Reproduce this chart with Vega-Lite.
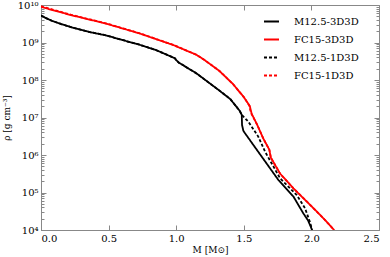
{
  "$schema": "https://vega.github.io/schema/vega-lite/v6.json",
  "autosize": "none",
  "width": 338,
  "height": 225,
  "padding": {"left": 41, "top": 5, "right": 11, "bottom": 27},
  "config": {
    "view": {"stroke": "#888888", "strokeWidth": 1},
    "font": "DejaVu Serif",
    "axis": {"domainColor": "#888888", "tickColor": "#888888", "labelFont": "DejaVu Serif", "titleFont": "DejaVu Serif", "labelColor": "#000000", "titleColor": "#000000", "labelFontSize": 10, "titleFontSize": 9, "titleFontWeight": "normal", "grid": false}
  },
  "datasets": {
    "curves": [
      {"series": "M12.5-3D3D", "M": 0.0, "rho": 5.25e9},
      {"series": "M12.5-3D3D", "M": 0.03, "rho": 4.6e9},
      {"series": "M12.5-3D3D", "M": 0.08, "rho": 3.8e9},
      {"series": "M12.5-3D3D", "M": 0.15, "rho": 3.1e9},
      {"series": "M12.5-3D3D", "M": 0.24, "rho": 2.45e9},
      {"series": "M12.5-3D3D", "M": 0.36, "rho": 1.9e9},
      {"series": "M12.5-3D3D", "M": 0.48, "rho": 1.55e9},
      {"series": "M12.5-3D3D", "M": 0.6, "rho": 1.17e9},
      {"series": "M12.5-3D3D", "M": 0.73, "rho": 8.7e8},
      {"series": "M12.5-3D3D", "M": 0.85, "rho": 6.3e8},
      {"series": "M12.5-3D3D", "M": 0.95, "rho": 4.4e8},
      {"series": "M12.5-3D3D", "M": 0.99, "rho": 3.8e8},
      {"series": "M12.5-3D3D", "M": 1.0, "rho": 3.4e8},
      {"series": "M12.5-3D3D", "M": 1.02, "rho": 2.9e8},
      {"series": "M12.5-3D3D", "M": 1.15, "rho": 1.5e8},
      {"series": "M12.5-3D3D", "M": 1.32, "rho": 5.2e7},
      {"series": "M12.5-3D3D", "M": 1.4, "rho": 3.1e7},
      {"series": "M12.5-3D3D", "M": 1.47, "rho": 1.5e7},
      {"series": "M12.5-3D3D", "M": 1.485, "rho": 1.17e7},
      {"series": "M12.5-3D3D", "M": 1.487, "rho": 6.3e6},
      {"series": "M12.5-3D3D", "M": 1.497, "rho": 4.4e6},
      {"series": "M12.5-3D3D", "M": 1.509, "rho": 3.8e6},
      {"series": "M12.5-3D3D", "M": 1.644, "rho": 7.9e5},
      {"series": "M12.5-3D3D", "M": 1.756, "rho": 2.15e5},
      {"series": "M12.5-3D3D", "M": 1.867, "rho": 7.8e4},
      {"series": "M12.5-3D3D", "M": 1.941, "rho": 2.75e4},
      {"series": "M12.5-3D3D", "M": 1.975, "rho": 1.8e4},
      {"series": "M12.5-3D3D", "M": 1.99, "rho": 1.35e4},
      {"series": "M12.5-3D3D", "M": 2.005, "rho": 1.0e4},
      {"series": "FC15-3D3D", "M": 0.0, "rho": 8.9e9},
      {"series": "FC15-3D3D", "M": 0.22, "rho": 5.4e9},
      {"series": "FC15-3D3D", "M": 0.48, "rho": 3.2e9},
      {"series": "FC15-3D3D", "M": 0.73, "rho": 1.74e9},
      {"series": "FC15-3D3D", "M": 0.98, "rho": 8.5e8},
      {"series": "FC15-3D3D", "M": 1.15, "rho": 4.7e8},
      {"series": "FC15-3D3D", "M": 1.21, "rho": 3.4e8},
      {"series": "FC15-3D3D", "M": 1.32, "rho": 1.74e8},
      {"series": "FC15-3D3D", "M": 1.42, "rho": 7.8e7},
      {"series": "FC15-3D3D", "M": 1.5, "rho": 3.5e7},
      {"series": "FC15-3D3D", "M": 1.545, "rho": 2.0e7},
      {"series": "FC15-3D3D", "M": 1.558, "rho": 1.26e7},
      {"series": "FC15-3D3D", "M": 1.6, "rho": 6.3e6},
      {"series": "FC15-3D3D", "M": 1.644, "rho": 2.75e6},
      {"series": "FC15-3D3D", "M": 1.689, "rho": 1.38e6},
      {"series": "FC15-3D3D", "M": 1.7, "rho": 8.5e5},
      {"series": "FC15-3D3D", "M": 1.768, "rho": 3.2e5},
      {"series": "FC15-3D3D", "M": 1.867, "rho": 1.29e5},
      {"series": "FC15-3D3D", "M": 1.99, "rho": 4.7e4},
      {"series": "FC15-3D3D", "M": 2.089, "rho": 2.05e4},
      {"series": "FC15-3D3D", "M": 2.168, "rho": 1.0e4},
      {"series": "M12.5-1D3D", "M": 0.0, "rho": 5.25e9},
      {"series": "M12.5-1D3D", "M": 0.03, "rho": 4.6e9},
      {"series": "M12.5-1D3D", "M": 0.08, "rho": 3.8e9},
      {"series": "M12.5-1D3D", "M": 0.15, "rho": 3.1e9},
      {"series": "M12.5-1D3D", "M": 0.24, "rho": 2.45e9},
      {"series": "M12.5-1D3D", "M": 0.36, "rho": 1.9e9},
      {"series": "M12.5-1D3D", "M": 0.48, "rho": 1.55e9},
      {"series": "M12.5-1D3D", "M": 0.6, "rho": 1.17e9},
      {"series": "M12.5-1D3D", "M": 0.73, "rho": 8.7e8},
      {"series": "M12.5-1D3D", "M": 0.85, "rho": 6.3e8},
      {"series": "M12.5-1D3D", "M": 0.95, "rho": 4.4e8},
      {"series": "M12.5-1D3D", "M": 0.99, "rho": 3.8e8},
      {"series": "M12.5-1D3D", "M": 1.0, "rho": 3.4e8},
      {"series": "M12.5-1D3D", "M": 1.02, "rho": 2.9e8},
      {"series": "M12.5-1D3D", "M": 1.15, "rho": 1.5e8},
      {"series": "M12.5-1D3D", "M": 1.32, "rho": 5.2e7},
      {"series": "M12.5-1D3D", "M": 1.4, "rho": 3.1e7},
      {"series": "M12.5-1D3D", "M": 1.47, "rho": 1.5e7},
      {"series": "M12.5-1D3D", "M": 1.485, "rho": 1.17e7},
      {"series": "M12.5-1D3D", "M": 1.496, "rho": 1.07e7},
      {"series": "M12.5-1D3D", "M": 1.533, "rho": 7.8e6},
      {"series": "M12.5-1D3D", "M": 1.607, "rho": 3.1e6},
      {"series": "M12.5-1D3D", "M": 1.657, "rho": 1.23e6},
      {"series": "M12.5-1D3D", "M": 1.768, "rho": 2.4e5},
      {"series": "M12.5-1D3D", "M": 1.892, "rho": 8.5e4},
      {"series": "M12.5-1D3D", "M": 1.953, "rho": 3.8e4},
      {"series": "M12.5-1D3D", "M": 1.99, "rho": 1.6e4},
      {"series": "M12.5-1D3D", "M": 2.005, "rho": 1.0e4},
      {"series": "FC15-1D3D", "M": 0.0, "rho": 9.3e9},
      {"series": "FC15-1D3D", "M": 0.22, "rho": 5.5e9},
      {"series": "FC15-1D3D", "M": 0.48, "rho": 3.25e9},
      {"series": "FC15-1D3D", "M": 0.73, "rho": 1.76e9},
      {"series": "FC15-1D3D", "M": 0.98, "rho": 8.6e8},
      {"series": "FC15-1D3D", "M": 1.15, "rho": 4.7e8},
      {"series": "FC15-1D3D", "M": 1.21, "rho": 3.4e8},
      {"series": "FC15-1D3D", "M": 1.32, "rho": 1.74e8},
      {"series": "FC15-1D3D", "M": 1.42, "rho": 7.8e7},
      {"series": "FC15-1D3D", "M": 1.5, "rho": 3.5e7},
      {"series": "FC15-1D3D", "M": 1.54, "rho": 2.1e7},
      {"series": "FC15-1D3D", "M": 1.552, "rho": 1.35e7},
      {"series": "FC15-1D3D", "M": 1.6, "rho": 6.3e6},
      {"series": "FC15-1D3D", "M": 1.644, "rho": 2.75e6},
      {"series": "FC15-1D3D", "M": 1.689, "rho": 1.38e6},
      {"series": "FC15-1D3D", "M": 1.7, "rho": 8.5e5},
      {"series": "FC15-1D3D", "M": 1.768, "rho": 3.2e5},
      {"series": "FC15-1D3D", "M": 1.867, "rho": 1.29e5},
      {"series": "FC15-1D3D", "M": 1.99, "rho": 4.7e4},
      {"series": "FC15-1D3D", "M": 2.089, "rho": 2.05e4},
      {"series": "FC15-1D3D", "M": 2.168, "rho": 1.0e4}
    ]
  },
  "data": {"name": "curves"},
  "resolve": {"axis": {"x": "independent", "y": "independent"}},
  "layer": [
    {
      "mark": {"type": "line", "strokeWidth": 1.8, "clip": true},
      "encoding": {
        "x": {"field": "M", "type": "quantitative", "scale": {"domain": [0, 2.5], "nice": false, "zero": false},
          "axis": {"orient": "bottom", "values": [0, 0.5, 1, 1.5, 2, 2.5], "format": ".1f", "tickSize": -5, "labelPadding": 8, "title": "M [M⊙]", "titlePadding": 2, "titleFontSize": 9}},
        "y": {"field": "rho", "type": "quantitative", "scale": {"type": "log", "domain": [10000, 10000000000], "nice": false},
          "axis": {"orient": "left", "values": [10000, 100000, 1000000, 10000000, 100000000, 1000000000, 10000000000], "tickSize": -5, "labelPadding": 8,
            "labelExpr": "datum.value >= 5e9 ? '10¹⁰' : datum.value >= 5e8 ? '10⁹' : datum.value >= 5e7 ? '10⁸' : datum.value >= 5e6 ? '10⁷' : datum.value >= 5e5 ? '10⁶' : datum.value >= 5e4 ? '10⁵' : '10⁴'",
            "title": "ρ [g cm⁻³]", "titlePadding": 6}},
        "color": {"field": "series", "type": "nominal",
          "scale": {"domain": ["M12.5-3D3D", "FC15-3D3D", "M12.5-1D3D", "FC15-1D3D"], "range": ["#000000", "#ff0000", "#000000", "#ff0000"]},
          "legend": {"title": null, "orient": "none", "legendX": 222, "legendY": 8, "symbolType": "stroke", "symbolSize": 225, "symbolStrokeWidth": 1.8, "labelFont": "DejaVu Serif", "labelFontSize": 10, "labelColor": "#000000", "rowPadding": 4, "labelOffset": 14}},
        "strokeDash": {"field": "series", "type": "nominal",
          "scale": {"domain": ["M12.5-3D3D", "FC15-3D3D", "M12.5-1D3D", "FC15-1D3D"], "range": [[1, 0], [1, 0], [3, 2], [3, 2]]}}
      }
    },
    {
      "mark": {"type": "point", "opacity": 0},
      "encoding": {
        "x": {"field": "M", "type": "quantitative", "scale": {"domain": [0, 2.5], "nice": false, "zero": false},
          "axis": {"orient": "top", "values": [0, 0.5, 1, 1.5, 2, 2.5], "tickSize": -5, "labels": false, "title": null, "domain": false}},
        "y": {"field": "rho", "type": "quantitative", "scale": {"type": "log", "domain": [10000, 10000000000], "nice": false},
          "axis": {"orient": "right", "values": [10000, 100000, 1000000, 10000000, 100000000, 1000000000, 10000000000], "tickSize": -5, "labels": false, "title": null, "domain": false}}
      }
    },
    {
      "mark": {"type": "point", "opacity": 0},
      "encoding": {
        "x": {"field": "M", "type": "quantitative", "scale": {"domain": [0, 2.5], "nice": false, "zero": false}, "axis": null},
        "y": {"field": "rho", "type": "quantitative", "scale": {"type": "log", "domain": [10000, 10000000000], "nice": false},
          "axis": {"orient": "left", "values": [20000, 30000, 40000, 50000, 60000, 70000, 80000, 90000, 200000, 300000, 400000, 500000, 600000, 700000, 800000, 900000, 2000000, 3000000, 4000000, 5000000, 6000000, 7000000, 8000000, 9000000, 20000000, 30000000, 40000000, 50000000, 60000000, 70000000, 80000000, 90000000, 200000000, 300000000, 400000000, 500000000, 600000000, 700000000, 800000000, 900000000, 2000000000, 3000000000, 4000000000, 5000000000, 6000000000, 7000000000, 8000000000, 9000000000], "tickSize": -3, "labels": false, "title": null, "domain": false}}
      }
    },
    {
      "mark": {"type": "point", "opacity": 0},
      "encoding": {
        "x": {"field": "M", "type": "quantitative", "scale": {"domain": [0, 2.5], "nice": false, "zero": false}, "axis": null},
        "y": {"field": "rho", "type": "quantitative", "scale": {"type": "log", "domain": [10000, 10000000000], "nice": false},
          "axis": {"orient": "right", "values": [20000, 30000, 40000, 50000, 60000, 70000, 80000, 90000, 200000, 300000, 400000, 500000, 600000, 700000, 800000, 900000, 2000000, 3000000, 4000000, 5000000, 6000000, 7000000, 8000000, 9000000, 20000000, 30000000, 40000000, 50000000, 60000000, 70000000, 80000000, 90000000, 200000000, 300000000, 400000000, 500000000, 600000000, 700000000, 800000000, 900000000, 2000000000, 3000000000, 4000000000, 5000000000, 6000000000, 7000000000, 8000000000, 9000000000], "tickSize": -3, "labels": false, "title": null, "domain": false}}
      }
    }
  ]
}
